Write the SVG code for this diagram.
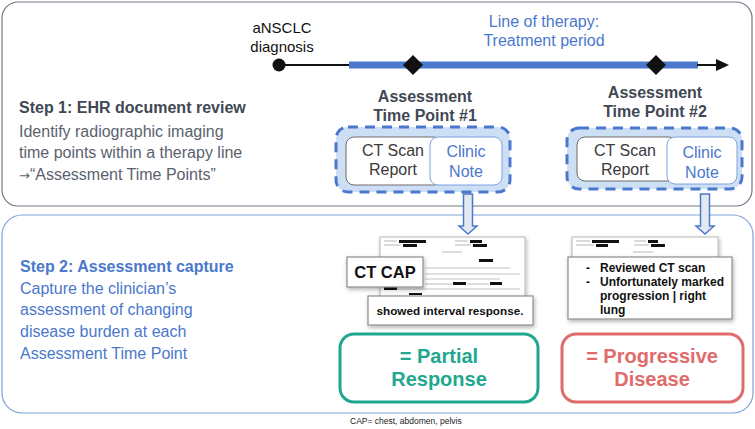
<svg xmlns="http://www.w3.org/2000/svg" width="755" height="429" viewBox="0 0 755 429">
<defs>
<style>
text{font-family:"Liberation Sans",Arial,Helvetica,sans-serif}
.c{text-anchor:middle}
.b{font-weight:bold}
.blue{fill:#4a78cc}
.dark{fill:#3f4854}
.gray{fill:#5a626d}
.dash{fill:#cddff4;stroke:#4a78cc;stroke-width:3;stroke-dasharray:10 7}
.ct{fill:#fff;stroke:#6d6d6d;stroke-width:1}
.cn{fill:#fff;stroke:#7ea2dc;stroke-width:1}
.barr{fill:#111}
.ln{stroke:#c4c4c4;stroke-width:1.2}
.paper{fill:#fff;stroke:#b8b8b8;stroke-width:1}
.snip{fill:#fff;stroke:#8d8d8d;stroke-width:1.2}
.blk{fill:#e4e9f1;stroke:#4a78cc;stroke-width:1.5}
.note{font-size:12px;font-weight:bold;fill:#111}
</style>
<filter id="sh" x="-10%" y="-20%" width="130%" height="150%">
<feDropShadow dx="1" dy="2" stdDeviation="2" flood-color="#000" flood-opacity="0.3"/>
</filter>
</defs>

<g id="panel1">
<rect x="2" y="2" width="750" height="204" rx="16" fill="#fff" stroke="#6f7886" stroke-width="1.2"/>
<text x="19" y="113" font-size="16" class="b dark">Step 1: EHR document review</text>
<text x="19" y="137" font-size="16" class="gray">Identify radiographic imaging</text>
<text x="19" y="158" font-size="16" class="gray">time points within a therapy line</text>
<text x="19" y="180" font-size="16" class="gray"><tspan font-family="'DejaVu Sans',sans-serif" font-size="13">→</tspan>“Assessment Time Points”</text>
</g>

<g id="panel2">
<rect x="2" y="215" width="751" height="198" rx="20" fill="#fff" stroke="#7ea2dc" stroke-width="1.2"/>
<text x="20" y="272" font-size="16" class="b blue">Step 2: Assessment capture</text>
<text x="20" y="294" font-size="16" class="blue">Capture the clinician’s</text>
<text x="20" y="315" font-size="16" class="blue">assessment of changing</text>
<text x="20" y="337" font-size="16" class="blue">disease burden at each</text>
<text x="20" y="359" font-size="16" class="blue">Assessment Time Point</text>
</g>

<g id="timeline">
<text x="282" y="33" font-size="15" class="c" fill="#111">aNSCLC</text>
<text x="282" y="52" font-size="15" class="c" fill="#111">diagnosis</text>
<text x="544" y="27" font-size="16" class="c blue">Line of therapy:</text>
<text x="544" y="46" font-size="16" class="c blue">Treatment period</text>
<line x1="279" y1="65" x2="350" y2="65" stroke="#111" stroke-width="2"/>
<line x1="349" y1="65" x2="698" y2="65" stroke="#4a78cc" stroke-width="7"/>
<line x1="697" y1="65" x2="720" y2="65" stroke="#111" stroke-width="2"/>
<polygon points="729,65 716,59 716,71" fill="#111"/>
<circle cx="279" cy="65" r="6.5" fill="#111"/>
<polygon points="413,55 423,65 413,75 403,65" fill="#111"/>
<polygon points="656,55 666,65 656,75 646,65" fill="#111"/>
</g>

<g id="tp1">
<text x="425" y="102" font-size="16" class="c b dark">Assessment</text>
<text x="425" y="121" font-size="16" class="c b dark">Time Point #1</text>
<rect class="dash" x="336" y="127" width="174" height="65" rx="12"/>
<rect class="ct" x="346" y="137" width="96" height="48" rx="8"/>
<rect class="cn" x="430" y="137" width="72" height="48" rx="8"/>
<text x="393" y="156" font-size="16" class="c" fill="#3a3a3a">CT Scan</text>
<text x="393" y="175" font-size="16" class="c" fill="#3a3a3a">Report</text>
<text x="466" y="157" font-size="16" class="c blue">Clinic</text>
<text x="466" y="177" font-size="16" class="c blue">Note</text>
</g>

<g id="tp2">
<text x="655" y="98" font-size="16" class="c b dark">Assessment</text>
<text x="655" y="117" font-size="16" class="c b dark">Time Point #2</text>
<rect class="dash" x="567" y="128" width="175" height="61" rx="12"/>
<rect class="ct" x="577" y="137" width="100" height="44" rx="8"/>
<rect class="cn" x="667" y="137" width="70" height="47" rx="8"/>
<text x="625" y="156" font-size="16" class="c" fill="#3a3a3a">CT Scan</text>
<text x="625" y="175" font-size="16" class="c" fill="#3a3a3a">Report</text>
<text x="702" y="158" font-size="16" class="c blue">Clinic</text>
<text x="702" y="178" font-size="16" class="c blue">Note</text>
</g>

<g id="connectors">
<path class="blk" d="M463.5,194 H472.5 V226 H477 L468,234 L459,226 H463.5 Z"/>
<path class="blk" d="M700.5,194 H709.5 V226 H714 L705,234 L696,226 H700.5 Z"/>
</g>

<g id="doc1">
<rect class="paper" x="380" y="237" width="145" height="62" filter="url(#sh)"/>
<rect class="barr" x="399" y="240" width="27" height="3"/>
<rect class="barr" x="403" y="244" width="14" height="3"/>
<rect class="barr" x="470" y="240" width="12" height="3"/>
<rect class="barr" x="473" y="244" width="14" height="3"/>
<line class="ln" x1="384" y1="241" x2="397" y2="241"/>
<line class="ln" x1="384" y1="245" x2="401" y2="245"/>
<line class="ln" x1="455" y1="241" x2="468" y2="241"/>
<line class="ln" x1="455" y1="245" x2="471" y2="245"/>
<line class="ln" x1="442" y1="252" x2="462" y2="252"/>
<rect class="barr" x="479" y="259" width="14" height="3"/>
<line class="ln" x1="425" y1="268" x2="510" y2="268"/>
<line class="ln" x1="425" y1="274" x2="520" y2="274"/>
<line class="ln" x1="425" y1="279" x2="500" y2="279"/>
<rect class="barr" x="453" y="282" width="13" height="3"/>
<rect class="barr" x="490" y="282" width="12" height="3"/>
<line class="ln" x1="425" y1="284" x2="452" y2="284"/>
<line class="ln" x1="467" y1="284" x2="489" y2="284"/>
<line class="ln" x1="384" y1="289" x2="520" y2="289"/>
<rect class="barr" x="384" y="287" width="13" height="3"/>
<rect class="barr" x="409" y="293" width="13" height="2"/>
<rect class="snip" x="347" y="257" width="76" height="30" filter="url(#sh)"/>
<text x="385" y="278" font-size="16.5" class="c b" fill="#111">CT CAP</text>
<rect class="snip" x="368" y="296" width="165" height="29" filter="url(#sh)"/>
<text x="450" y="315" font-size="11.7" class="c b" fill="#111">showed interval response.</text>
</g>

<g id="doc2">
<rect class="paper" x="572" y="237" width="146" height="24" filter="url(#sh)"/>
<rect class="barr" x="592" y="240" width="27" height="3"/>
<rect class="barr" x="596" y="244" width="12" height="3"/>
<rect class="barr" x="648" y="240" width="10" height="3"/>
<rect class="barr" x="651" y="244" width="14" height="3"/>
<line class="ln" x1="576" y1="241" x2="590" y2="241"/>
<line class="ln" x1="576" y1="245" x2="594" y2="245"/>
<line class="ln" x1="634" y1="241" x2="646" y2="241"/>
<line class="ln" x1="634" y1="245" x2="649" y2="245"/>
<line class="ln" x1="633" y1="252" x2="653" y2="252"/>
<rect class="snip" x="568" y="257" width="164" height="62" filter="url(#sh)"/>
<text x="586" y="272" class="note">-</text>
<text x="600" y="272" class="note">Reviewed CT scan</text>
<text x="586" y="286" class="note">-</text>
<text x="600" y="286" class="note">Unfortunately marked</text>
<text x="600" y="300" class="note">progression | right</text>
<text x="600" y="314" class="note">lung</text>
</g>

<g id="result1">
<rect x="340" y="334" width="198" height="68" rx="14" fill="#fff" stroke="#1fa88f" stroke-width="3"/>
<text x="439" y="363" font-size="20" class="c b" fill="#1fa88f">= Partial</text>
<text x="439" y="386" font-size="20" class="c b" fill="#1fa88f">Response</text>
</g>

<g id="result2">
<rect x="562" y="334" width="181" height="68" rx="14" fill="#fff" stroke="#e06b6b" stroke-width="3"/>
<text x="652" y="363" font-size="20" class="c b" fill="#e06b6b">= Progressive</text>
<text x="652" y="386" font-size="20" class="c b" fill="#e06b6b">Disease</text>
</g>

<text x="350" y="424" font-size="8.5" fill="#222">CAP= chest, abdomen, pelvis</text>
</svg>
